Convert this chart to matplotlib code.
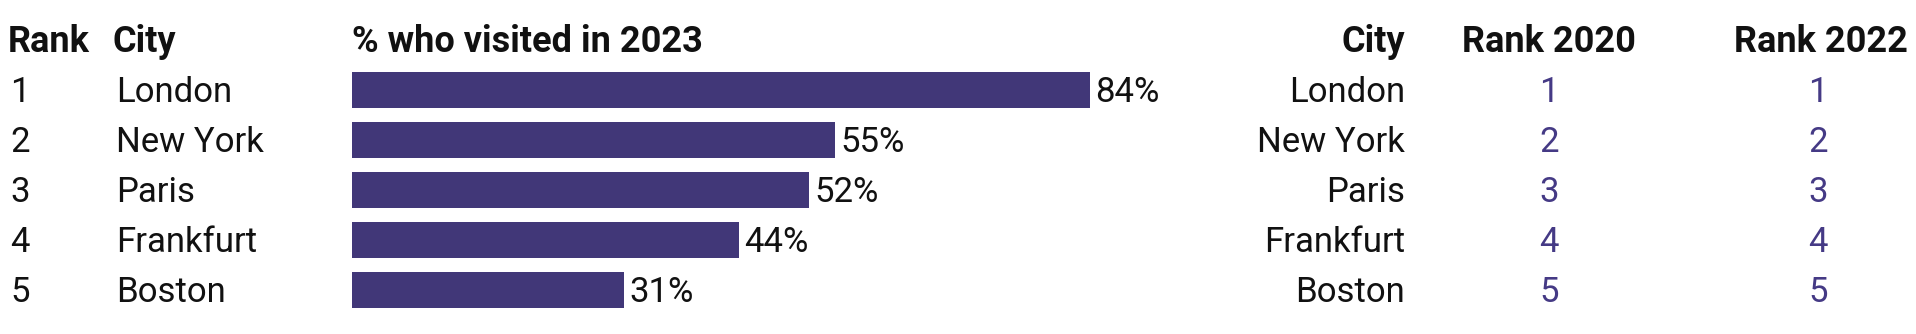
import matplotlib
matplotlib.use("Agg")
import matplotlib.pyplot as plt
from matplotlib.transforms import blended_transform_factory, offset_copy

plt.rcParams['font.family'] = ['Roboto', 'DejaVu Sans']

# data
ranks = [1, 2, 3, 4, 5]
cities = ["London", "New York", "Paris", "Frankfurt", "Boston"]
visited_2023 = [84, 55, 52, 44, 31]
rank_2020 = [1, 2, 3, 4, 5]
rank_2022 = [1, 2, 3, 4, 5]

bar_color = "#413778"
num_color = "#453a85"
txt_color = "#111111"
fs = 25
hfs = 26

W, H = 1916, 334
fig = plt.figure(figsize=(W / 100, H / 100), dpi=100)

# bar axes: 0-100% over ~879 px, rows 50 px apart
ax = fig.add_axes([352 / W, (H - 315) / H, 878.6 / W, 250 / H])
rows = list(range(len(cities)))
ax.barh(rows, visited_2023, height=0.72, color=bar_color, edgecolor="none")
ax.set_xlim(0, 100)
ax.set_ylim(4.5, -0.5)
ax.axis("off")

# nudge text down a couple of pixels
down = offset_copy(ax.transData, fig=fig, y=-2.5, units="dots")
for r, v in zip(rows, visited_2023):
    ax.text(v + 0.6, r, f"{v}%", va="center", ha="left", fontsize=fs, color=txt_color, transform=down)

tr = offset_copy(blended_transform_factory(fig.transFigure, ax.transData), fig=fig, y=-2.5, units="dots")

# headers
hdr = dict(fontsize=hfs, fontweight="bold", color=txt_color, va="center", transform=tr, clip_on=False)
ax.text(8 / W, -1, "Rank", ha="left", **hdr)
ax.text(112 / W, -1, "City", ha="left", **hdr)
ax.text(352 / W, -1, "% who visited in 2023", ha="left", **hdr)
ax.text(1405 / W, -1, "City", ha="right", **hdr)
ax.text(1549 / W, -1, "Rank 2020", ha="center", **hdr)
ax.text(1821 / W, -1, "Rank 2022", ha="center", **hdr)

# table columns
for r, rk, c, a, b in zip(rows, ranks, cities, rank_2020, rank_2022):
    ax.text(10 / W, r, str(rk), ha="left", va="center", fontsize=fs, color=txt_color, transform=tr)
    ax.text(116 / W, r, c, ha="left", va="center", fontsize=fs, color=txt_color, transform=tr)
    ax.text(1405 / W, r, c, ha="right", va="center", fontsize=fs, color=txt_color, transform=tr)
    ax.text(1549 / W, r, str(a), ha="center", va="center", fontsize=fs, color=num_color, transform=tr)
    ax.text(1818 / W, r, str(b), ha="center", va="center", fontsize=fs, color=num_color, transform=tr)

fig.savefig("out.png", dpi=100, facecolor="white")
